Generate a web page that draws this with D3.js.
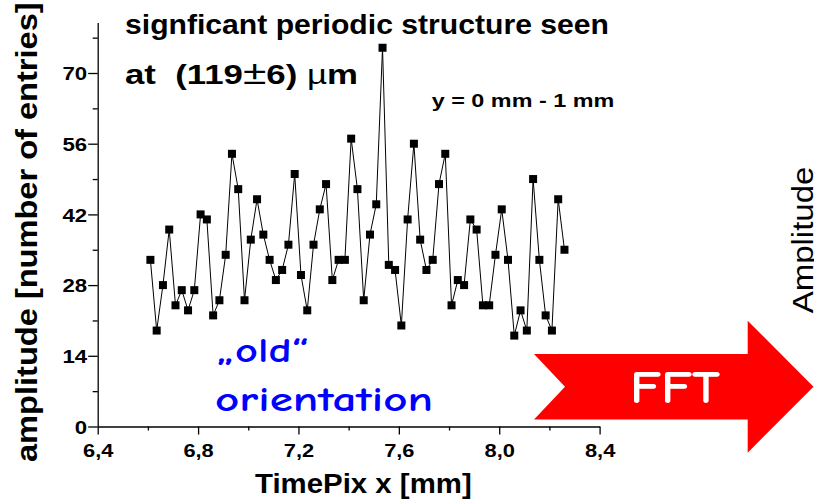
<!DOCTYPE html>
<html><head><meta charset="utf-8">
<script src="https://cdn.jsdelivr.net/npm/d3@7"></script>
<style>html,body{margin:0;padding:0;background:#fff;overflow:hidden;} svg{display:block;}</style>
</head><body>
<svg id="c" width="814" height="504"></svg>
<script>
// ---- data ----
const xPositions = [6.610, 6.635, 6.660, 6.685, 6.710, 6.735, 6.760, 6.785, 6.810, 6.835,
  6.860, 6.885, 6.910, 6.935, 6.960, 6.985, 7.010, 7.035, 7.060, 7.085,
  7.110, 7.135, 7.160, 7.185, 7.210, 7.235, 7.260, 7.285, 7.310, 7.335,
  7.360, 7.385, 7.410, 7.435, 7.460, 7.485, 7.510, 7.535, 7.560, 7.585,
  7.610, 7.635, 7.660, 7.685, 7.710, 7.735, 7.760, 7.785, 7.810, 7.835,
  7.860, 7.885, 7.910, 7.935, 7.960, 7.985, 8.010, 8.035, 8.060, 8.085,
  8.110, 8.135, 8.160, 8.185, 8.210, 8.235, 8.260];
const amplitudes = [33, 19, 28, 39, 24, 27, 23, 27, 42, 41,
  22, 25, 34, 54, 47, 25, 37, 45, 38, 33,
  29, 31, 36, 50, 30, 23, 36, 43, 48, 29,
  33, 33, 57, 47, 25, 38, 44, 75, 32, 31,
  20, 41, 56, 37, 31, 33, 48, 54, 24, 29,
  28, 41, 39, 24, 24, 34, 43, 33, 18, 23,
  19, 49, 33, 22, 19, 45, 35];
const xMajorTicks = [6.4, 6.8, 7.2, 7.6, 8.0, 8.4];
const xTickLabels = ["6,4", "6,8", "7,2", "7,6", "8,0", "8,4"];
const xMinorTicks = [6.6, 7.0, 7.4, 7.8, 8.2];
const yMajorTicks = [0, 14, 28, 42, 56, 70];
const yMinorTicks = [7, 21, 35, 49, 63, 77];
const xDomain = [6.4, 8.4];
const yDomain = [0, 80];
const titleLine1 = "signficant periodic structure seen";
const noteText = "y = 0 mm - 1 mm";
const xLabel = "TimePix x [mm]";
const yLabel = "amplitude [number of entries]";
const oldLine1 = "\u201Eold\u201C";
const oldLine2 = "orientation";
const arrowText = "FFT";
const rightLabel = "Amplitude";

// ---- drawing ----
const ARIAL = "Arial, 'Liberation Sans', Helvetica, sans-serif";
const COMIC = "'Comic Sans MS', 'Comic Neue', 'DejaVu Sans', sans-serif";
const svg = d3.select("#c");
svg.append("rect").attr("width", 814).attr("height", 504).attr("fill", "#fff");

const x = d3.scaleLinear().domain(xDomain).range([97.7, 599.6]);
const y = d3.scaleLinear().domain(yDomain).range([426.5, 22.5]);

function fitText(sel, tx, ty, rot, target) {
  sel.attr("x", 0).attr("y", 0);
  const len = sel.node().getComputedTextLength();
  const s = target / len;
  sel.attr("transform", `translate(${tx},${ty}) rotate(${rot}) scale(${s},1)`);
  return sel;
}

// arrow (decoration)
svg.append("polygon")
  .attr("points", [[534,354],[747.7,354],[747.7,320.7],[813.5,386.7],[747.7,452.7],[747.7,419.4],[534,419.4],[565,386.7]].map(p=>p.join(",")).join(" "))
  .attr("fill", "#ff0000");
fitText(svg.append("text").text(arrowText)
  .attr("font-family", COMIC).attr("font-weight", "bold").attr("font-size", 47)
  .attr("fill", "#fff"), 630, 403.3, 0, 90);

// axes
const axisStroke = 1.3;
const gx = svg.append("g").attr("transform", `translate(0,${y(0)})`);
gx.call(d3.axisBottom(x).tickValues(xMajorTicks).tickSize(8).tickSizeOuter(0)
  .tickFormat((d, i) => xTickLabels[i]));
const gxm = svg.append("g").attr("transform", `translate(0,${y(0)})`);
gxm.call(d3.axisBottom(x).tickValues(xMinorTicks).tickSize(4).tickFormat(""));
gxm.select(".domain").remove();

const gy = svg.append("g").attr("transform", `translate(${x(6.4)},0)`);
gy.call(d3.axisLeft(y).tickValues(yMajorTicks).tickSize(9.5).tickSizeOuter(0));
const gym = svg.append("g").attr("transform", `translate(${x(6.4)},0)`);
gym.call(d3.axisLeft(y).tickValues(yMinorTicks).tickSize(5).tickFormat(""));
gym.select(".domain").remove();

svg.selectAll(".domain, .tick line").attr("stroke", "#000").attr("stroke-width", axisStroke);

gx.selectAll(".tick text")
  .attr("font-family", ARIAL).attr("font-weight", "bold").attr("font-size", 19)
  .attr("fill", "#000").attr("y", 0).attr("dy", 0)
  .attr("transform", "translate(0,30) scale(1.15,1)");
gy.selectAll(".tick text")
  .attr("font-family", ARIAL).attr("font-weight", "bold").attr("font-size", 19)
  .attr("fill", "#000").attr("x", 0).attr("dy", "0.36em")
  .attr("transform", "translate(-10.5,0) scale(1.17,1)");

// data line and markers
const line = d3.line().x((d, i) => x(xPositions[i])).y(d => y(d));
svg.append("path").datum(amplitudes).attr("d", line)
  .attr("fill", "none").attr("stroke", "#000").attr("stroke-width", 1);
svg.append("g").selectAll("rect").data(amplitudes).join("rect")
  .attr("x", (d, i) => x(xPositions[i]) - 4).attr("y", d => y(d) - 4)
  .attr("width", 8).attr("height", 8).attr("fill", "#000");

// texts
fitText(svg.append("text").text(titleLine1)
  .attr("font-family", ARIAL).attr("font-weight", "bold").attr("font-size", 27).attr("fill", "#000"),
  125, 33.5, 0, 484);

const t2 = svg.append("text").attr("font-family", ARIAL).attr("font-size", 27).attr("fill", "#000");
t2.append("tspan").attr("font-weight", "bold").text("at  (119");
t2.append("tspan").attr("font-weight", "normal").attr("font-size", 33).text("\u00B1");
t2.append("tspan").attr("font-weight", "bold").text("6) ");
t2.append("tspan").attr("font-weight", "normal").text("\u00B5");
t2.append("tspan").attr("font-weight", "bold").text("m");
t2.attr("xml:space", "preserve").style("white-space", "pre");
fitText(t2, 125, 83.5, 0, 233);

fitText(svg.append("text").text(noteText)
  .attr("font-family", ARIAL).attr("font-weight", "bold").attr("font-size", 18.5).attr("fill", "#000"),
  431.7, 106.7, 0, 182.6);

fitText(svg.append("text").text(xLabel)
  .attr("font-family", ARIAL).attr("font-weight", "bold").attr("font-size", 27).attr("fill", "#000"),
  255, 493.3, 0, 216.7);

fitText(svg.append("text").text(yLabel)
  .attr("font-family", ARIAL).attr("font-weight", "bold").attr("font-size", 29).attr("fill", "#000"),
  37.3, 462, -90, 460);

fitText(svg.append("text").text(oldLine1)
  .attr("font-family", COMIC).attr("font-weight", "bold").attr("font-size", 34).attr("fill", "#0000ff"),
  215, 361.7, 0, 93);
fitText(svg.append("text").text(oldLine2)
  .attr("font-family", COMIC).attr("font-weight", "bold").attr("font-size", 34).attr("fill", "#0000ff"),
  215, 410.7, 0, 218);

fitText(svg.append("text").text(rightLabel)
  .attr("font-family", ARIAL).attr("font-weight", "normal").attr("font-size", 30).attr("fill", "#000"),
  813.3, 313.3, -90, 146.7);
</script>
</body></html>
